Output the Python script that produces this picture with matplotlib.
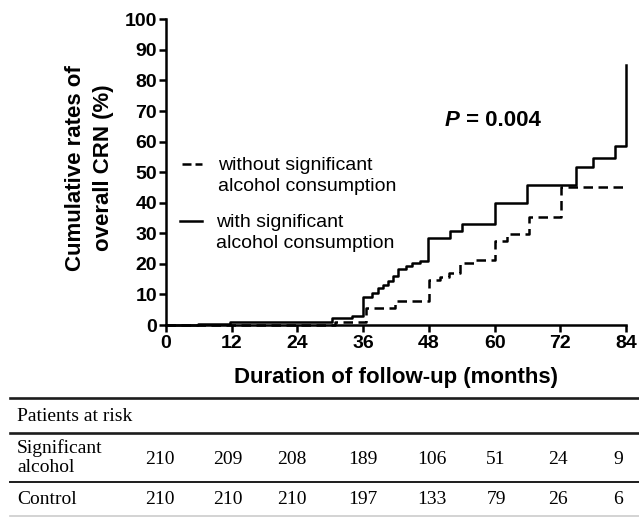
import matplotlib

matplotlib.use("Agg")

import matplotlib.pyplot as plt
from matplotlib.lines import Line2D

# cumulative incidence (months, %)
with_alcohol_t = [0, 5.8, 11.7, 30.3, 33.9, 36.0, 37.7, 38.8, 39.7, 40.6, 41.4, 42.3,
                  43.8, 45.0, 46.3, 47.9, 51.9, 54.0, 60.0, 66.0, 74.9, 78.0, 82.0, 84.0]
with_alcohol_pct = [0, 0.4, 1.0, 2.2, 2.9, 9.3, 10.6, 12.0, 13.1, 14.5, 16.0, 18.2,
                    19.3, 20.2, 20.9, 28.4, 30.9, 33.2, 39.8, 45.8, 51.6, 54.7, 58.7, 84.9]

without_alcohol_t = [0, 30.9, 36.5, 41.8, 48.0, 50.0, 51.6, 53.7, 56.6, 60.0, 62.2,
                     66.2, 72.1, 84.0]
without_alcohol_pct = [0, 1.1, 5.5, 7.9, 14.7, 15.8, 17.1, 20.2, 21.3, 27.5, 29.9,
                       35.4, 45.3, 45.3]

x_ticks = [0, 12, 24, 36, 48, 60, 72, 84]
y_ticks = [0, 10, 20, 30, 40, 50, 60, 70, 80, 90, 100]

risk_header = "Patients at risk"
risk_rows = ["Significant\nalcohol", "Control"]
alcohol_at_risk = [210, 209, 208, 189, 106, 51, 24, 9]
control_at_risk = [210, 210, 210, 197, 133, 79, 26, 6]

W, H = 639, 517
SANS = "Liberation Sans"
SERIF = "Liberation Serif"

fig = plt.figure(figsize=(W / 100, H / 100), dpi=100)
fig.patch.set_facecolor("white")

# main plot, placed in pixel terms
left, right, top, bottom = 166, 626, 19.3, 325
ax = fig.add_axes([left / W, (H - bottom) / H, (right - left) / W, (bottom - top) / H])

lw = 1.8
ax.step(with_alcohol_t, with_alcohol_pct, where="post", color="black", lw=lw,
        clip_on=False, zorder=3)
ax.step(without_alcohol_t, without_alcohol_pct, where="post", color="black", lw=lw,
        linestyle=(0, (3.8, 2.2)), clip_on=False, zorder=3)

ax.set_xlim(0, 84)
ax.set_ylim(0, 100)
ax.set_xticks(x_ticks)
ax.set_yticks(y_ticks)
for side in ("top", "right"):
    ax.spines[side].set_visible(False)
for side in ("left", "bottom"):
    ax.spines[side].set_linewidth(1.8)
ax.tick_params(axis="both", direction="out", length=5, width=1.8)
ax.tick_params(axis="x", pad=2.5)
ax.tick_params(axis="y", pad=1.5)
for lab in ax.get_xticklabels() + ax.get_yticklabels():
    lab.set_fontfamily(SANS)
    lab.set_fontweight("bold")
    lab.set_fontsize(14)

ax.set_xlabel("Duration of follow-up (months)", fontfamily=SANS, fontweight="bold",
              fontsize=16)
ax.xaxis.set_label_coords(0.5, -0.136)
ax.set_ylabel("Cumulative rates of\noverall CRN (%)", fontfamily=SANS,
              fontweight="bold", fontsize=16, linespacing=1.45)
ax.yaxis.set_label_coords(-0.113, 0.515)

# overlay in pixel coordinates for legend, p-value and the risk table
ov = fig.add_axes([0, 0, 1, 1])
ov.set_xlim(0, W)
ov.set_ylim(H, 0)
ov.axis("off")
ov.patch.set_visible(False)

# legend
ov.add_line(Line2D([181.5, 202], [164.3, 164.3], color="black", lw=lw,
                   linestyle=(0, (3.6, 1.6))))
ov.add_line(Line2D([180, 202], [221, 221], color="black", lw=lw))
ov.text(218, 176, "without significant\nalcohol consumption", fontfamily=SANS,
        fontsize=14, va="center", ha="left", linespacing=1.32)
ov.text(216, 232.7, "with significant\nalcohol consumption", fontfamily=SANS,
        fontsize=14, va="center", ha="left", linespacing=1.32)

# p-value
p_txt = ov.text(445, 120, "P", fontfamily=SANS, fontweight="bold", style="italic",
                fontsize=16, va="center", ha="left")
ov.annotate(" = 0.004", xy=(1, 0), xycoords=p_txt, fontfamily=SANS,
            fontweight="bold", fontsize=16, va="bottom", ha="left")

# risk table
line_dark = "#1c1c1c"
ov.add_line(Line2D([10, W], [397.7, 397.7], color=line_dark, lw=1.9))
ov.add_line(Line2D([10, W], [433.3, 433.3], color=line_dark, lw=1.9))
ov.add_line(Line2D([10, W], [481.7, 481.7], color=line_dark, lw=1.4))
ov.add_line(Line2D([10, W], [515.7, 515.7], color="#cccccc", lw=1.2))

ov.text(17, 416.7, risk_header, fontfamily=SERIF, fontsize=14, va="center", ha="left")
ov.text(17, 457.5, risk_rows[0], fontfamily=SERIF, fontsize=14, va="center", ha="left",
        linespacing=1.15)
ov.text(17, 500, risk_rows[1], fontfamily=SERIF, fontsize=14, va="center", ha="left")

col_x = [160, 228, 292, 363, 432, 496, 558, 618]
for cx, a, c in zip(col_x, alcohol_at_risk, control_at_risk):
    ov.text(cx, 459, str(a), fontfamily=SERIF, fontsize=14, va="center", ha="center")
    ov.text(cx, 500, str(c), fontfamily=SERIF, fontsize=14, va="center", ha="center")

fig.savefig("out.png", dpi=100, facecolor="white")
